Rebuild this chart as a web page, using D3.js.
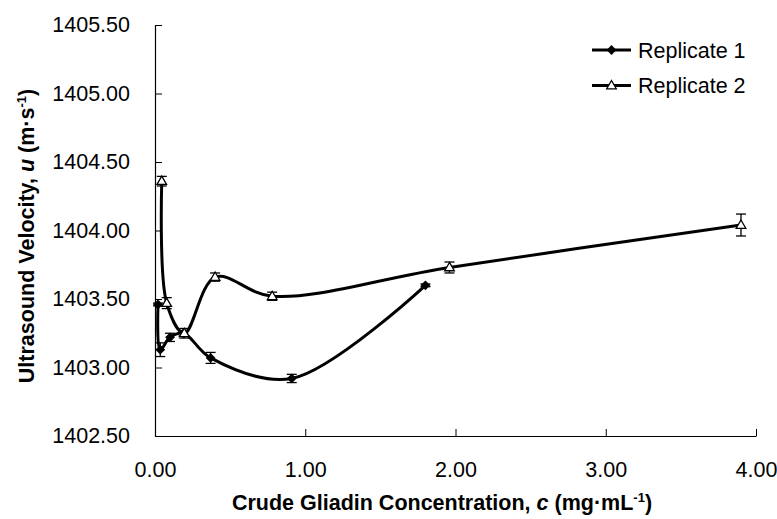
<!DOCTYPE html>
<html>
<head>
<meta charset="utf-8">
<script src="https://cdn.jsdelivr.net/npm/d3@7"></script>
<style>
  body { margin: 0; background: #fff; }
  svg text { font-family: "Liberation Sans", Arial, sans-serif; fill: #000; }
</style>
</head>
<body>
<svg id="chart" width="777" height="519"></svg>
<script>
// data
const rep1X   = [0.02, 0.035, 0.10, 0.19, 0.37, 0.91, 1.80];
const rep1Y   = [1403.46, 1403.13, 1403.22, 1403.25, 1403.07, 1402.92, 1403.60];
const rep1Err = [0.01, 0.05, 0.03, 0.02, 0.04, 0.03, 0.01];

const rep2X   = [0.045, 0.078, 0.195, 0.40, 0.78, 1.96, 3.90];
const rep2Y   = [1404.36, 1403.47, 1403.25, 1403.66, 1403.52, 1403.73, 1404.04];
const rep2Err = [0.035, 0.04, 0.035, 0.03, 0.03, 0.04, 0.08];

const xTicks = [0, 1, 2, 3, 4];
const yTicks = [1402.5, 1403, 1403.5, 1404, 1404.5, 1405, 1405.5];
const seriesNames = ["Replicate 1", "Replicate 2"];

const svg = d3.select("#chart");

const x = d3.scaleLinear().domain([0, 4]).range([155, 756]);
const y = d3.scaleLinear().domain([1402.5, 1405.5]).range([436, 25]);

// axes
const xAxis = svg.append("g")
  .attr("transform", "translate(0,436)")
  .call(d3.axisBottom(x).tickValues(xTicks).tickFormat(d3.format(".2f"))
    .tickSizeInner(-7).tickSizeOuter(0).tickPadding(26));

const yAxis = svg.append("g")
  .attr("transform", "translate(155,0)")
  .call(d3.axisLeft(y).tickValues(yTicks).tickFormat(d3.format(".2f"))
    .tickSizeInner(-7).tickSizeOuter(0).tickPadding(25));

[xAxis, yAxis].forEach(a => {
  a.select(".domain").attr("stroke", "#000").attr("stroke-width", 1.2);
  a.selectAll(".tick line").attr("stroke", "#000");
  a.selectAll(".tick text").style("font-size", "21.5px").attr("fill", "#000");
});

const line = d3.line()
  .x(d => x(d[0]))
  .y(d => y(d[1]))
  .curve(d3.curveCatmullRom.alpha(0.5));

const series = [
  { name: seriesNames[0], xs: rep1X, ys: rep1Y, err: rep1Err, marker: "diamond" },
  { name: seriesNames[1], xs: rep2X, ys: rep2Y, err: rep2Err, marker: "triangle" }
];

const diamond = d3.symbol().type(d3.symbolSquare).size(48);
const triangle = d3.symbol().type(d3.symbolTriangle).size(40);

function drawMarker(g, type, cx, cy) {
  if (type === "diamond") {
    g.append("path")
      .attr("d", diamond())
      .attr("transform", `translate(${cx},${cy}) rotate(45)`)
      .attr("fill", "#000");
  } else {
    g.append("path")
      .attr("d", triangle())
      .attr("transform", `translate(${cx},${cy + 0.5})`)
      .attr("fill", "#fff")
      .attr("stroke", "#000")
      .attr("stroke-width", 1.3);
  }
}

series.forEach(s => {
  const pts = s.xs.map((v, i) => [v, s.ys[i], s.err[i]]);

  svg.append("path")
    .datum(pts)
    .attr("fill", "none")
    .attr("stroke", "#000")
    .attr("stroke-width", 3)
    .attr("d", line);

  const eb = svg.append("g").attr("stroke", "#000").attr("stroke-width", 1.3);
  pts.forEach(p => {
    const px = x(p[0]), top = y(p[1] + p[2]), bot = y(p[1] - p[2]);
    eb.append("line").attr("x1", px).attr("x2", px).attr("y1", top).attr("y2", bot);
    eb.append("line").attr("x1", px - 5).attr("x2", px + 5).attr("y1", top).attr("y2", top);
    eb.append("line").attr("x1", px - 5).attr("x2", px + 5).attr("y1", bot).attr("y2", bot);
  });

  const mk = svg.append("g");
  pts.forEach(p => drawMarker(mk, s.marker, x(p[0]), y(p[1])));
});

// legend
const legend = svg.append("g");
series.forEach((s, i) => {
  const ly = 50 + i * 35.5;
  legend.append("line")
    .attr("x1", 592).attr("x2", 631).attr("y1", ly).attr("y2", ly)
    .attr("stroke", "#000").attr("stroke-width", 3);
  drawMarker(legend, s.marker, 611.5, ly);
  legend.append("text")
    .attr("x", 638).attr("y", ly + 7.5)
    .style("font-size", "21.5px")
    .text(s.name);
});

// axis titles
const xt = svg.append("text")
  .attr("x", 442).attr("y", 510)
  .attr("text-anchor", "middle")
  .style("font-size", "21.5px").style("font-weight", "bold");
xt.append("tspan").text("Crude Gliadin Concentration, ");
xt.append("tspan").style("font-style", "italic").text("c");
xt.append("tspan").text(" (mg·mL");
xt.append("tspan").attr("dy", -8).style("font-size", "13px").text("-1");
xt.append("tspan").attr("dy", 8).text(")");

const yt = svg.append("text")
  .attr("transform", "translate(34,236) rotate(-90)")
  .attr("text-anchor", "middle")
  .style("font-size", "21.5px").style("font-weight", "bold");
yt.append("tspan").text("Ultrasound Velocity, ");
yt.append("tspan").style("font-style", "italic").text("u");
yt.append("tspan").text(" (m·s");
yt.append("tspan").attr("dy", -8).style("font-size", "13px").text("-1");
yt.append("tspan").attr("dy", 8).text(")");
</script>
</body>
</html>
